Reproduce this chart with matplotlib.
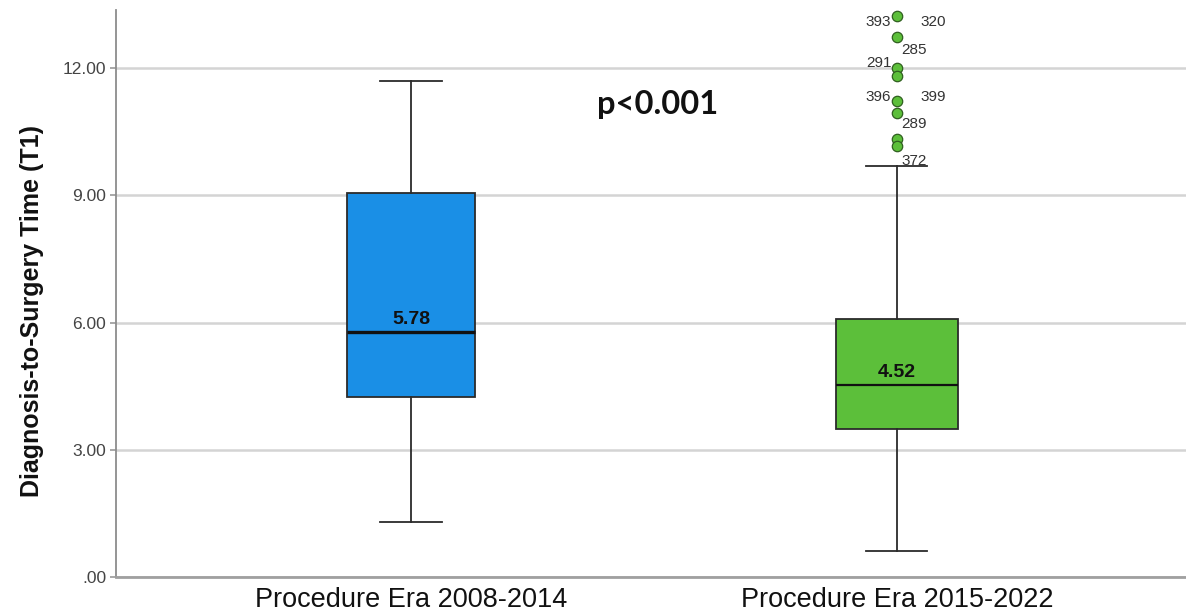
import matplotlib
matplotlib.use("Agg")
import matplotlib.pyplot as plt
from matplotlib.ticker import FuncFormatter

# Diagnosis-to-surgery time (T1) summary per procedure era
eras = ["Procedure Era 2008-2014", "Procedure Era 2015-2022"]
medians = [5.78, 4.52]
q1 = [4.24, 3.49]
q3 = [9.05, 6.08]
whisker_low = [1.30, 0.61]
whisker_high = [11.69, 9.69]

# outliers of the later era and their case-number labels
outlier_values = [13.22, 12.73, 12.00, 11.81, 11.22, 10.94, 10.33, 10.16]
outlier_case_ids = ["393", "320", "285", "291", "396", "399", "289", "372"]
outlier_case_values = [13.22, 13.22, 12.73, 12.00, 11.22, 11.22, 10.94, 10.16]

p_text = "p<0.001"
y_ticks = [0, 3, 6, 9, 12]

BOX_COLORS = ["#1a8fe6", "#5cbf3a"]
EDGE = "#2b2b2b"
GRID = "#d4d4d4"

plt.rcParams["font.family"] = ["Liberation Sans", "DejaVu Sans"]

fig = plt.figure(figsize=(11.86, 6.14), dpi=100)
ax = fig.add_axes([0.0978, 0.0603, 0.9022, 0.9234])

positions = [1, 2]
stats = []
for i, name in enumerate(eras):
    stats.append({
        "label": name,
        "med": medians[i],
        "q1": q1[i],
        "q3": q3[i],
        "whislo": whisker_low[i],
        "whishi": whisker_high[i],
        "fliers": outlier_values if i == 1 else [],
    })

bp = ax.bxp(
    stats, positions=positions, widths=[0.265, 0.25], capwidths=[0.126, 0.126],
    patch_artist=True, showfliers=True, zorder=3,
    boxprops=dict(edgecolor=EDGE, linewidth=1.3),
    whiskerprops=dict(color=EDGE, linewidth=1.3),
    capprops=dict(color=EDGE, linewidth=1.3),
    flierprops=dict(marker="o", markersize=7.5, markerfacecolor=BOX_COLORS[1],
                    markeredgecolor="#2f5f1f", markeredgewidth=0.9, linestyle="none"),
)
for patch, col in zip(bp["boxes"], BOX_COLORS):
    patch.set_facecolor(col)
bp["medians"][0].set(color="#111111", linewidth=2.4)
bp["medians"][1].set(color="#111111", linewidth=1.6)

# median value labels sitting just above each median line
for x, m in zip(positions, medians):
    ax.annotate(f"{m:.2f}", xy=(x, m), xytext=(0, 3), textcoords="offset points",
                ha="center", va="bottom", fontsize=14, fontweight="bold",
                color="#111111", zorder=5)

# case-number labels next to the outliers (offsets in points)
label_offsets = [(-4, -4, "right"), (17, -4, "left"), (3, -9, "left"),
                 (-4, 4, "right"), (-4, 3, "right"), (17, 3, "left"),
                 (3, -8, "left"), (3, -11, "left")]
for cid, val, (dx, dy, ha) in zip(outlier_case_ids, outlier_case_values, label_offsets):
    ax.annotate(cid, xy=(positions[1], val), xytext=(dx, dy), textcoords="offset points",
                ha=ha, va="center", fontsize=11, color="#333333", zorder=5)

ax.text(1.508, 11.13, p_text, ha="center", va="center", fontsize=23.5,
        fontweight="bold", family=["Lato", "DejaVu Sans"], color="#111111")

ax.set_xlim(0.393, 2.595)
ax.set_ylim(0, 13.37)
ax.set_yticks(y_ticks)
ax.yaxis.set_major_formatter(FuncFormatter(lambda v, _: ".00" if v == 0 else f"{v:.2f}"))
ax.set_xticks(positions)
ax.set_xticklabels(eras, fontsize=19.5, color="#111111")
ax.tick_params(axis="x", length=0, pad=7)
ax.tick_params(axis="y", length=4, width=1.2, color="#999999", labelsize=12.5,
               labelcolor="#444444", pad=3)

ax.yaxis.grid(True, color=GRID, linewidth=1.8, zorder=0)
ax.set_axisbelow(True)

for side in ("top", "right"):
    ax.spines[side].set_visible(False)
ax.spines["left"].set_color("#8c8c8c")
ax.spines["left"].set_linewidth(1.3)
ax.spines["bottom"].set_color("#a0a0a0")
ax.spines["bottom"].set_linewidth(2)

ax.set_ylabel("Diagnosis-to-Surgery Time (T1)", fontsize=18, fontweight="bold",
              color="#111111")
ax.yaxis.set_label_coords(-0.067, 0.47)

fig.savefig("out.png", dpi=100)
